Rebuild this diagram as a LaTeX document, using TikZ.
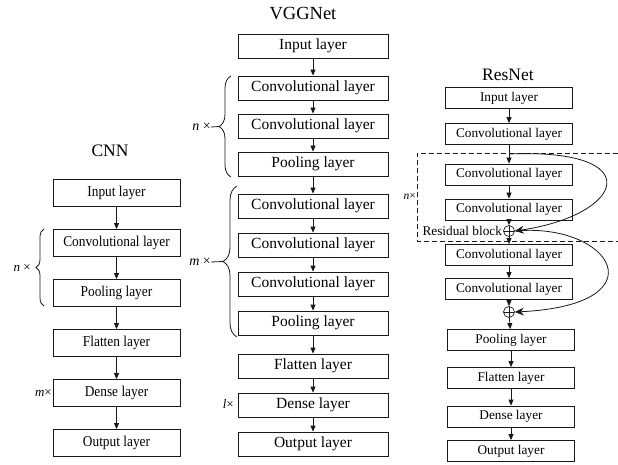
\documentclass[tikz,border=0pt]{standalone}
\usepackage{fontspec}
\setmainfont{Liberation Serif}
\newfontfamily\cnnfont[FakeStretch=0.89]{Liberation Serif}
\usepackage{tikz}
\usetikzlibrary{arrows.meta, positioning, decorations.pathreplacing}
\definecolor{mydark}{RGB}{25,25,25}
\tikzset{
  layer/.style={rectangle, draw=mydark, fill=white,
    minimum width=127pt, minimum height=27pt, inner sep=0pt,
    font=\cnnfont\fontsize{15}{16}\selectfont, line width=0.8pt},
  vgglayer/.style={layer, minimum width=150pt, minimum height=24pt,
    font=\rmfamily\fontsize{15.5}{16}\selectfont},
  reslayer/.style={layer, minimum height=21pt,
    font=\rmfamily\fontsize{13.3}{14}\selectfont},
  plusnode/.style={circle, draw=mydark, minimum size=11pt, inner sep=0pt,
    line width=0.7pt, path picture={
      \draw[mydark, line width=0.6pt]
        (path picture bounding box.north) -- (path picture bounding box.south)
        (path picture bounding box.west) -- (path picture bounding box.east);}},
  nettitle/.style={font=\fontsize{17.5}{18}\selectfont},
  replabel/.style={font=\fontsize{13}{14}\selectfont, inner sep=0pt, anchor=east},
  arrow/.style={-{Triangle[length=6pt,width=5pt]}, line width=0.8pt, color=mydark},
  skiparrow/.style={-{Stealth[length=9pt,width=8pt,inset=3pt]}, line width=0.8pt, color=mydark},
  brc/.style={decorate, decoration={brace, amplitude=#1}, line width=0.8pt, color=mydark},
  brc/.default=8pt,
  line/.style={line width=0.8pt, color=mydark}
}

\begin{document}
\begin{tikzpicture}[x=1pt, y=-1pt]
  \useasboundingbox (0,0) rectangle (618,465);

  % CNN
  \node[nettitle] (cnntitle) at (110,151) {CNN};
  \node[layer] (cin)   at (116.5,193) {Input layer};
  \node[layer] (cconv) at (116.5,243) {Convolutional layer};
  \node[layer] (cpool) at (116.5,293) {Pooling layer};
  \node[layer] (cflat) at (116.5,343) {Flatten layer};
  \node[layer] (cdens) at (116.5,393) {Dense layer};
  \node[layer] (cout)  at (116.5,443) {Output layer};
  \draw[arrow] (cin) -- (cconv);
  \draw[arrow] (cconv) -- (cpool);
  \draw[arrow] (cpool) -- (cflat);
  \draw[arrow] (cflat) -- (cdens);
  \draw[arrow] (cdens) -- (cout);
  \draw[brc] (44,306) -- (44,229);
  \node[replabel] (cn) at (31,268) {\textit{n} ×};
  \node[replabel] (cm) at (52,393) {\textit{m}×};

  % VGGNet
  \node[nettitle, font=\fontsize{18.5}{19}\selectfont] (vggtitle) at (303,14) {VGGNet};
  \node[vgglayer] (vin)    at (313,46)  {Input layer};
  \node[vgglayer] (vconv1) at (313,88)  {Convolutional layer};
  \node[vgglayer] (vconv2) at (313,126) {Convolutional layer};
  \node[vgglayer] (vpool1) at (313,164) {Pooling layer};
  \node[vgglayer] (vconv3) at (313,206) {Convolutional layer};
  \node[vgglayer] (vconv4) at (313,245) {Convolutional layer};
  \node[vgglayer] (vconv5) at (313,284) {Convolutional layer};
  \node[vgglayer] (vpool2) at (313,323) {Pooling layer};
  \node[vgglayer] (vflat)  at (313,366) {Flatten layer};
  \node[vgglayer] (vdens)  at (313,405) {Dense layer};
  \node[vgglayer] (vout)   at (313,444) {Output layer};
  \draw[arrow] (vin) -- (vconv1);
  \draw[arrow] (vconv1) -- (vconv2);
  \draw[arrow] (vconv2) -- (vpool1);
  \draw[arrow] (vpool1) -- (vconv3);
  \draw[arrow] (vconv3) -- (vconv4);
  \draw[arrow] (vconv4) -- (vconv5);
  \draw[arrow] (vconv5) -- (vpool2);
  \draw[arrow] (vpool2) -- (vflat);
  \draw[arrow] (vflat) -- (vdens);
  \draw[arrow] (vdens) -- (vout);
  \draw[brc=12pt] (231,177) -- (231,76);
  \coordinate (vntip) at (219,126.5);
  \node[replabel, font=\fontsize{14}{15}\selectfont] (vn) at (211,127) {\textit{n} ×};
  \draw[line] (vn.east) -- (vntip);
  \draw[brc=14pt] (237,337) -- (237,186);
  \coordinate (vmtip) at (223,261.5);
  \node[replabel, font=\fontsize{14}{15}\selectfont] (vm) at (211,262) {\textit{m} ×};
  \draw[line] (vm.east) -- (vmtip);
  \node[replabel] (vl) at (234,404) {\textit{l}×};

  % ResNet
  \node[nettitle] (restitle) at (508,75) {ResNet};
  \node[reslayer] (rin)    at (509,98)    {Input layer};
  \node[reslayer] (rconv1) at (509,134)   {Convolutional layer};
  \node[reslayer] (rconv2) at (509,174.5) {Convolutional layer};
  \node[reslayer] (rconv3) at (509,209.5) {Convolutional layer};
  \node[plusnode] (rplus1) at (509,231) {};
  \node[reslayer] (rconv4) at (509,255)   {Convolutional layer};
  \node[reslayer] (rconv5) at (509,289)   {Convolutional layer};
  \node[plusnode] (rplus2) at (509,312) {};
  \node[reslayer] (rpool)  at (511,340)   {Pooling layer};
  \node[reslayer] (rflat)  at (511,378)   {Flatten layer};
  \node[reslayer] (rdens)  at (511,416.5) {Dense layer};
  \node[reslayer] (rout)   at (511,451)   {Output layer};
  \coordinate (rskip) at (509,154);
  \draw[arrow] (rin) -- (rconv1);
  \draw[arrow] (rconv1) -- (rconv2);
  \draw[arrow] (rconv2) -- (rconv3);
  \draw[arrow] (rconv3) -- (rplus1);
  \draw[arrow] (rplus1) -- (rconv4);
  \draw[arrow] (rconv4) -- (rconv5);
  \draw[arrow] (rconv5) -- (rplus2);
  \draw[arrow] (rplus2) -- (rpool);
  \draw[arrow] (rpool) -- (rflat);
  \draw[arrow] (rflat) -- (rdens);
  \draw[arrow] (rdens) -- (rout);
  % skip connections
  \draw[skiparrow] (rskip) .. controls (650,148) and (625,215) .. (rplus1.east);
  \draw[skiparrow] (rplus1.east) .. controls (612,222) and (662,305) .. (rplus2.east);
  % residual block frame
  \draw[line, line width=0.7pt, dash pattern=on 5pt off 3pt]
    (618,153) -- (417,153) -- (417,241) -- (618,241);
  \node[anchor=east, font=\fontsize{13.3}{14}\selectfont, inner sep=1pt] (rblock) at (rplus1.west) {Residual block};
  \node[replabel, font=\fontsize{11.5}{12}\selectfont] (rn) at (416,196) {\textit{n}×};
\end{tikzpicture}
\end{document}
